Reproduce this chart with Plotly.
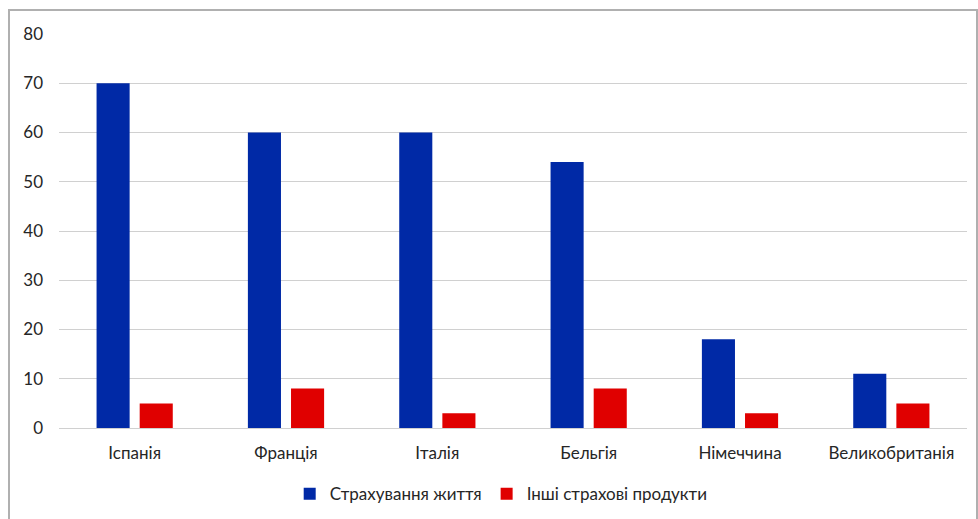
import plotly.graph_objects as go

countries = ["Іспанія", "Франція", "Італія", "Бельгія", "Німеччина", "Великобританія"]
life_insurance = [70, 60, 60, 54, 18, 11]
other_products = [5, 8, 3, 8, 3, 5]
y_ticks = [0, 10, 20, 30, 40, 50, 60, 70, 80]

series_names = ["Страхування життя", "Інші страхові продукти"]
colors = ["#0029A6", "#E00000"]

font_family = "Lato, 'Open Sans', sans-serif"
text_color = "#262626"

fig = go.Figure()
fig.add_trace(go.Bar(x=countries, y=life_insurance, name=series_names[0],
                     marker=dict(color=colors[0], line=dict(width=0))))
fig.add_trace(go.Bar(x=countries, y=other_products, name=series_names[1],
                     marker=dict(color=colors[1], line=dict(width=0))))

fig.update_layout(
    width=978, height=519,
    margin=dict(l=59, r=11, t=34, b=91, autoexpand=False),
    paper_bgcolor="white", plot_bgcolor="white",
    barmode="group", bargap=0.43, bargroupgap=0.233,
    font=dict(family=font_family, size=17, color=text_color),
    showlegend=True,
    legend=dict(orientation="h", x=0.487, xanchor="center", y=-0.168, yanchor="middle",
                font=dict(size=17, color=text_color), itemwidth=30, tracegroupgap=0),
    xaxis=dict(showgrid=False, showline=False, ticks="", ticklabelstandoff=13,
               automargin=False, tickfont=dict(size=17, color=text_color)),
    yaxis=dict(range=[0, 80], tickvals=y_ticks, showgrid=True, gridcolor="#D0D0D0",
               gridwidth=1, zeroline=True, zerolinecolor="#D0D0D0", zerolinewidth=1,
               showline=False, ticks="", ticklabelstandoff=15, automargin=False,
               tickfont=dict(size=17, color=text_color)),
)

# Outer chart frame
fig.add_shape(type="rect", xref="paper", yref="paper",
              x0=(9 - 59) / 908, x1=(977 - 59) / 908,
              y0=-(519 - 428 + 10) / 394, y1=1 + 24 / 394,
              line=dict(color="#B0B0B0", width=2), fillcolor="rgba(0,0,0,0)",
              layer="below")

fig.write_html("out.html")
